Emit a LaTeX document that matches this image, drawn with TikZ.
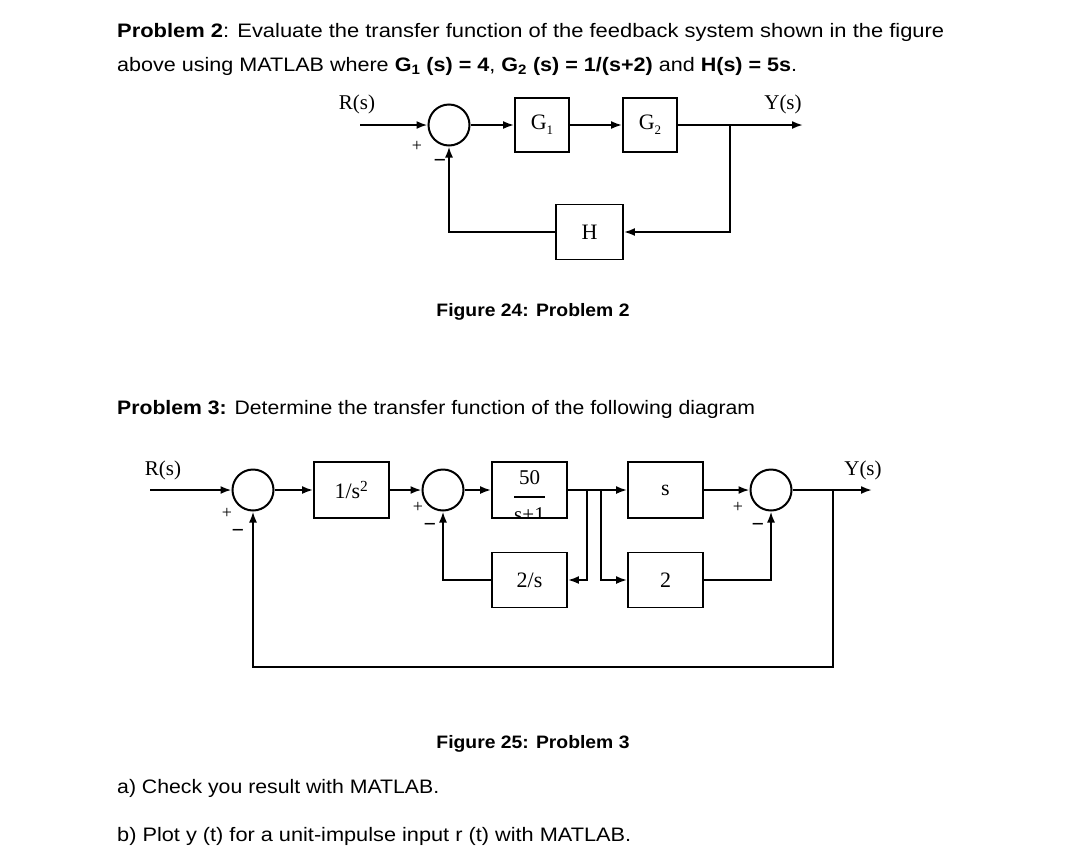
\documentclass[tikz,border=0pt]{standalone}
\usepackage{fontspec}
\usepackage{graphicx}
\setmainfont{Liberation Serif}
\newfontfamily\sfa{Liberation Sans}
\usetikzlibrary{arrows.meta}
\newcommand{\lowsub}[1]{\raisebox{-5pt}{\fontsize{13}{14}\selectfont #1}}
\tikzset{
  blk/.style={draw, line width=1.9pt, minimum width=55pt, minimum height=55pt, inner sep=0pt, font=\fontsize{22}{24}\selectfont},
  sumj/.style={draw, circle, line width=2pt, minimum size=41pt, inner sep=0pt},
  arr/.style={-{Latex[length=11pt,width=8pt]}, line width=1.9pt},
  lbl/.style={font=\fontsize{21}{23}\selectfont, inner sep=0pt},
  sgn/.style={font=\fontsize{18}{20}\selectfont, inner sep=0pt},
  mns/.style={font=\bfseries\fontsize{22}{24}\selectfont, inner sep=0pt},
  txt/.style={anchor=base west, inner sep=0pt, font=\sfa\fontsize{19.5}{21}\selectfont},
  capt/.style={anchor=base, inner sep=0pt, font=\sfa\bfseries\fontsize{18}{20}\selectfont}
}
\begin{document}
\begin{tikzpicture}[x=1pt,y=-1pt]
\useasboundingbox (0,0) rectangle (1080,868);
\fill[white] (0,0) rectangle (1080,868);

% ---------- texts ----------
\node[txt] (t1) at (117,37) {\resizebox{827pt}{\height}{\textbf{Problem 2}: Evaluate the transfer function of the feedback system shown in the figure}};
\node[txt] (t2) at (117,71) {\resizebox{680pt}{\height}{above using MATLAB where \textbf{G\textsubscript{1} (s) = 4}, \textbf{G\textsubscript{2} (s) = 1/(s+2)} and \textbf{H(s) = 5s}.}};
\node[capt] (c24) at (533,316) {\resizebox{193pt}{\height}{Figure 24: Problem 2}};
\node[txt] (t3) at (117,414) {\resizebox{638pt}{\height}{\textbf{Problem 3:} Determine the transfer function of the following diagram}};
\node[capt] (c25) at (533,748) {\resizebox{193pt}{\height}{Figure 25: Problem 3}};
\node[txt] (ta) at (117,793) {\resizebox{322pt}{\height}{a) Check you result with MATLAB.}};
\node[txt] (tb) at (117,841) {\resizebox{514pt}{\height}{b) Plot y (t) for a unit-impulse input r (t) with MATLAB.}};

% ---------- Figure 24 ----------
\node[sumj] (a1) at (449,125) {};
\node[blk, minimum width=54pt, minimum height=54pt] (g1) at (542,125) {G\lowsub{1}};
\node[blk, minimum width=54pt, minimum height=54pt] (g2) at (650,125) {G\lowsub{2}};
\node[blk, minimum width=67pt, minimum height=55pt] (h) at (589.5,232) {H};
\coordinate (r1) at (360,125);
\coordinate (b1) at (730,125);
\coordinate (y1) at (803,125);
\draw[arr] (r1) -- (a1);
\draw[arr] (a1) -- (g1);
\draw[arr] (g1) -- (g2);
\draw[arr] (g2) -- (y1);
\draw[arr] (b1) |- (h);
\draw[arr] (h) -| (a1);
\node[lbl] (rl1) at (357,104) {R(s)};
\node[lbl] (yl1) at (783,104) {Y(s)};
\node[sgn] (p1) at (417,146) {+};
\node[mns] (m1) at (440,163) {−};

% ---------- Figure 25 ----------
\node[sumj] (s1) at (253,490) {};
\node[blk, minimum width=75pt, minimum height=56pt] (ba) at (351.5,490) {1/s\textsuperscript{2}};
\node[sumj] (s2) at (443,490) {};
\begin{scope}
  \clip (492,462) rectangle (567,518);
  \node[lbl, anchor=base, font=\fontsize{21}{23}\selectfont] (bnum) at (529.5,484) {50};
  \node[inner sep=0pt] (bbar) at (529.5,497) {\rule{31pt}{1.4pt}};
  \node[lbl, anchor=base, font=\fontsize{21}{23}\selectfont] (bden) at (529.5,521) {s+1};
\end{scope}
\node[blk, minimum width=75pt, minimum height=56pt] (bb) at (529.5,490) {};
\node[blk, minimum width=75pt, minimum height=55pt] (bc) at (529.5,580) {2/s};
\node[blk, minimum width=75pt, minimum height=56pt] (bd) at (665.5,490) {s};
\node[blk, minimum width=75pt, minimum height=55pt] (be) at (665.5,580) {2};
\node[sumj] (s3) at (771,490) {};
\coordinate (in2) at (150,490);
\coordinate (bA) at (587,490);
\coordinate (bB) at (601,490);
\coordinate (bo) at (833,490);
\coordinate (out2) at (872,490);
\coordinate (lp) at (253,667);
\draw[arr] (in2) -- (s1);
\draw[arr] (s1) -- (ba);
\draw[arr] (ba) -- (s2);
\draw[arr] (s2) -- (bb);
\draw[arr] (bb) -- (bd);
\draw[arr] (bd) -- (s3);
\draw[arr] (s3) -- (out2);
\draw[arr] (bA) |- (bc);
\draw[arr] (bB) |- (be);
\draw[arr] (bc) -| (s2);
\draw[arr] (be) -| (s3);
\draw[arr] (bo) |- (lp) -- (s1);
\node[lbl] (rl2) at (163,470) {R(s)};
\node[lbl] (yl2) at (863,470) {Y(s)};
\node[sgn] (p2) at (227,513) {+};
\node[mns] (m2) at (238,533) {−};
\node[sgn] (p3) at (418,507) {+};
\node[mns] (m3) at (430,527) {−};
\node[sgn] (p4) at (738,507) {+};
\node[mns] (m4) at (758,527) {−};
\end{tikzpicture}
\end{document}
